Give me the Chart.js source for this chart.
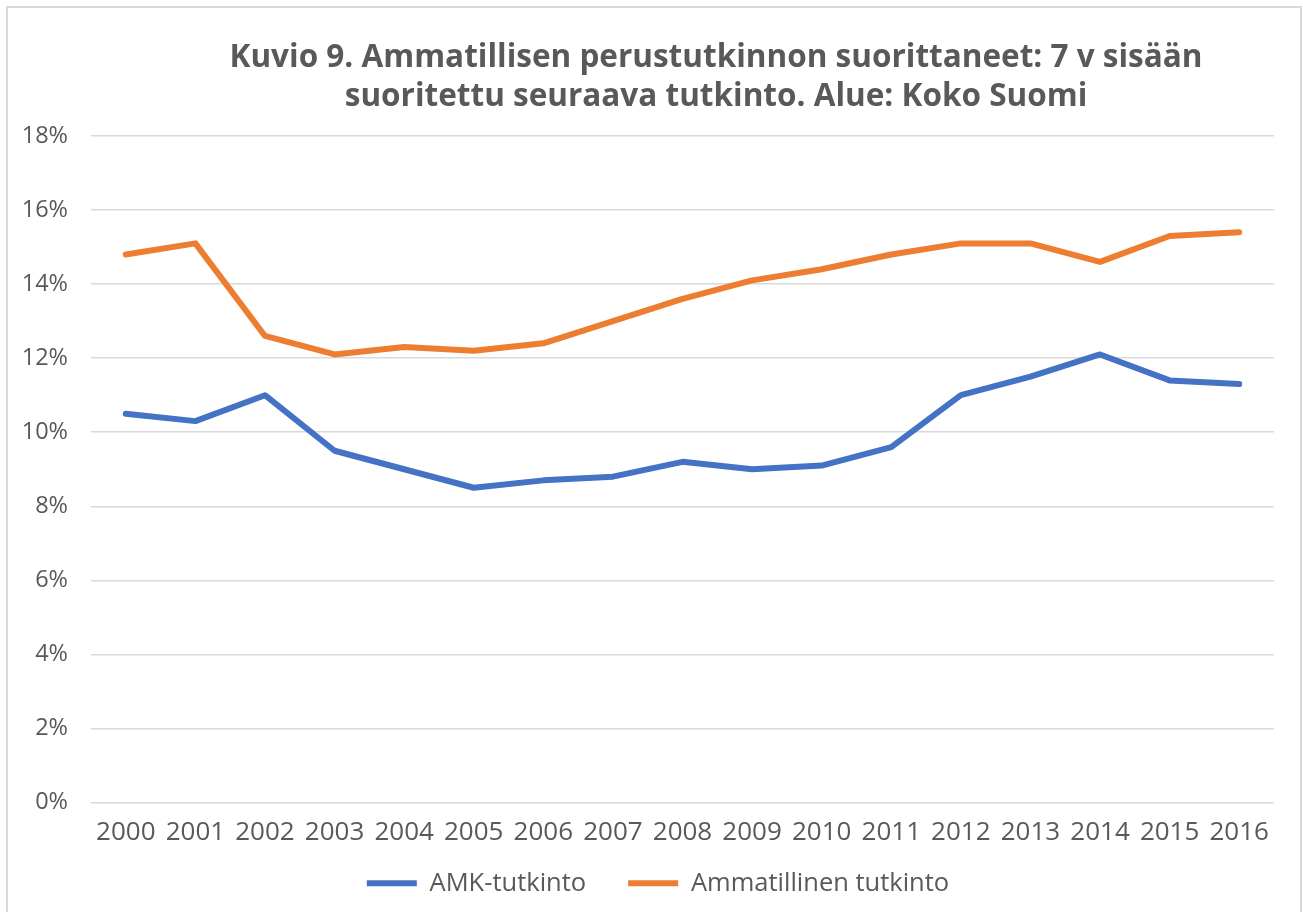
<!DOCTYPE html>
<html>
<head>
<meta charset="utf-8">
<script src="https://cdn.jsdelivr.net/npm/chart.js@4"></script>
<style>
  html, body { margin: 0; padding: 0; background: #fff; }
  #wrap { width: 1303px; height: 912px; position: relative; }
</style>
</head>
<body>
<div id="wrap"><canvas id="chart" width="1303" height="912"></canvas></div>
<script>
// ── Kuvio 9 – data ──
const years = ['2000','2001','2002','2003','2004','2005','2006','2007','2008','2009','2010','2011','2012','2013','2014','2015','2016'];
const amk = [10.5,10.3,11.0,9.5,9.0,8.5,8.7,8.8,9.2,9.0,9.1,9.6,11.0,11.5,12.1,11.4,11.3];
const ammatillinen = [14.8,15.1,12.6,12.1,12.3,12.2,12.4,13.0,13.6,14.1,14.4,14.8,15.1,15.1,14.6,15.3,15.4];
const titleLines = ['Kuvio 9. Ammatillisen perustutkinnon suorittaneet: 7 v sisään', 'suoritettu seuraava tutkinto. Alue: Koko Suomi'];

const FONT = "'Open Sans', 'Noto Sans', sans-serif";
const TXT = '#595959';

// axis labels may spill outside the (tight) axis boxes
const noClip = s => { s._computeLabelArea = () => undefined; };

// frame + title drawn on the canvas
const frameTitle = {
  id: 'frameTitle',
  beforeDraw(chart) {
    const c = chart.ctx;
    c.save();
    c.strokeStyle = '#d9d9d9'; c.lineWidth = 2;
    c.strokeRect(7, 7, 1294, 910);
    c.restore();
  },
  afterDraw(chart) {
    const c = chart.ctx;
    c.save();
    c.fillStyle = TXT;
    c.font = "bold 31.5px " + FONT;
    c.textAlign = 'center'; c.textBaseline = 'middle';
    c.fillText(titleLines[0], 716, 58);
    c.fillText(titleLines[1], 716, 97);
    c.restore();
  }
};

new Chart(document.getElementById('chart').getContext('2d'), {
  type: 'line',
  data: {
    labels: years,
    datasets: [
      { label: 'AMK-tutkinto', data: amk, borderColor: '#4472c4', backgroundColor: '#4472c4',
        borderWidth: 6, pointRadius: 0, tension: 0, borderCapStyle: 'round', borderJoinStyle: 'round' },
      { label: 'Ammatillinen tutkinto', data: ammatillinen, borderColor: '#ed7d31', backgroundColor: '#ed7d31',
        borderWidth: 6, pointRadius: 0, tension: 0, borderCapStyle: 'round', borderJoinStyle: 'round' }
    ]
  },
  options: {
    responsive: false,
    animation: false,
    layout: { padding: { top: 136, right: 29, left: 42, bottom: 6 } },
    plugins: {
      title: { display: false },
      tooltip: { enabled: false },
      legend: {
        position: 'bottom',
        labels: {
          usePointStyle: true, pointStyle: 'line', pointStyleWidth: 50,
          color: TXT, font: { family: FONT, size: 25.5 }, padding: 42
        }
      }
    },
    scales: {
      y: {
        min: 0, max: 18,
        ticks: { stepSize: 2, color: TXT, font: { family: FONT, size: 23.5 }, padding: 23, callback: v => v + '%' },
        grid: { color: '#d9d9d9', lineWidth: 1.5, drawTicks: false },
        border: { display: false },
        afterFit: s => { s.width = 49; noClip(s); }
      },
      x: {
        offset: true,
        ticks: { color: TXT, font: { family: FONT, size: 26 }, padding: 14, maxRotation: 0, autoSkip: false },
        grid: { display: false, drawTicks: false, offset: true },
        border: { display: false },
        afterFit: s => { s.height = 26; noClip(s); }
      }
    }
  },
  plugins: [frameTitle]
});
</script>
</body>
</html>
